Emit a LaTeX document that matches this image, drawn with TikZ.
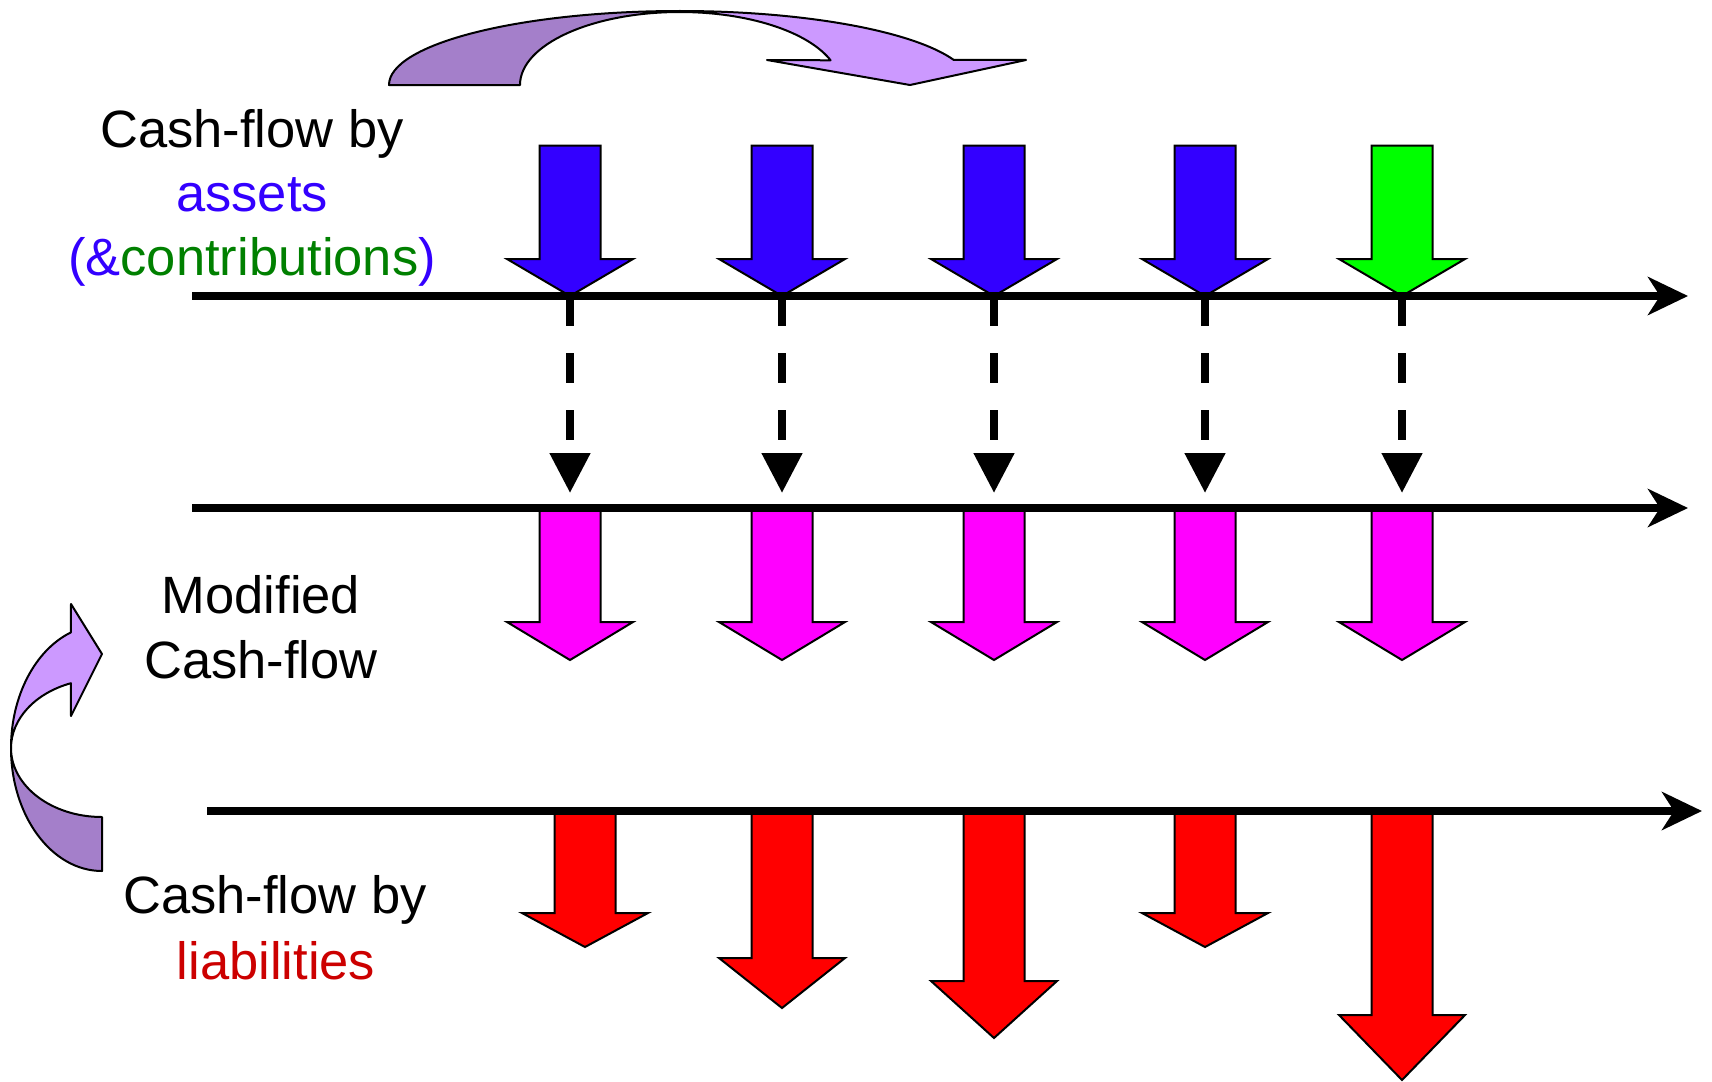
\documentclass[tikz,border=0pt]{standalone}
\usepackage{fontspec}
\setmainfont{Liberation Sans}
\usetikzlibrary{arrows.meta}
\definecolor{cblue}{HTML}{3300FF}
\definecolor{cgreen}{HTML}{00FF00}
\definecolor{cmag}{HTML}{FF00FF}
\definecolor{cred}{HTML}{FF0000}
\definecolor{tblue}{HTML}{3300FF}
\definecolor{tgreen}{HTML}{008000}
\definecolor{tred}{HTML}{CC0000}
\definecolor{pdark}{HTML}{A47FCA}
\definecolor{plight}{HTML}{CC99FF}
\newcommand\FatArrow[6]{%
  \path[fatarr, fill=#6] (#2-30.5,#3) -- (#2+30.5,#3) -- (#2+30.5,#4) -- (#2+63,#4) -- (#2,#5) -- (#2-63,#4) -- (#2-30.5,#4) -- cycle;
  \coordinate (#1) at (#2,#5);%
}
\begin{document}
\begin{tikzpicture}[x=1pt,y=-1pt,
  fatarr/.style={draw=black, line width=2pt, line join=miter},
  axisline/.style={line width=7.5pt, -{Stealth[length=40pt,width=38pt,inset=12pt]}},
  dashconn/.style={line width=8pt, dash pattern=on 30pt off 27pt, -{Triangle[length=40pt,width=39pt]}},
  lbl/.style={anchor=base, inner sep=0pt, font=\fontsize{52.5}{64}\selectfont},
  curv/.style={draw=black, line width=2pt, line join=round}]
\useasboundingbox (0,0) rectangle (1712,1081);

% curved arrow at the top
\path[curv, fill=pdark] (389,85) arc[start angle=180, end angle=270, x radius=291, y radius=74]
  -- (680,12) arc[start angle=270, end angle=180, x radius=160, y radius=73] -- cycle;
\path[curv, fill=plight] (680,11) arc[start angle=270, end angle=340.2, x radius=291, y radius=74]
  -- (1026,60) -- (910,85) -- (767,60) -- (830.6,60.3)
  arc[start angle=340.2, end angle=270, x radius=160, y radius=73] -- cycle;

% curved arrow at the left
\path[curv, fill=pdark] (102,871) arc[start angle=90, end angle=180, x radius=91, y radius=123]
  -- (11,748) arc[start angle=180, end angle=90, x radius=91, y radius=69] -- cycle;
\path[curv, fill=plight] (11,748) arc[start angle=180, end angle=250, x radius=91, y radius=123]
  -- (71,604) -- (102,654) -- (71,716) -- (70.9,683.2)
  arc[start angle=250, end angle=180, x radius=91, y radius=69] -- cycle;

% asset arrows
\FatArrow{b1}{570}{145.5}{259}{296}{cblue}
\FatArrow{b2}{782}{145.5}{259}{296}{cblue}
\FatArrow{b3}{994}{145.5}{259}{296}{cblue}
\FatArrow{b4}{1205}{145.5}{259}{296}{cblue}
\FatArrow{b5}{1402}{145.5}{259}{296}{cgreen}

% modified arrows
\FatArrow{m1}{570}{508}{622}{660}{cmag}
\FatArrow{m2}{782}{508}{622}{660}{cmag}
\FatArrow{m3}{994}{508}{622}{660}{cmag}
\FatArrow{m4}{1205}{508}{622}{660}{cmag}
\FatArrow{m5}{1402}{508}{622}{660}{cmag}

% liability arrows
\FatArrow{r1}{585}{811}{913}{947}{cred}
\FatArrow{r2}{782}{811}{958}{1008}{cred}
\FatArrow{r3}{994}{811}{981}{1038}{cred}
\FatArrow{r4}{1205}{811}{913}{947}{cred}
\FatArrow{r5}{1402}{811}{1015}{1080}{cred}

% time axes
\coordinate (a1s) at (192,296); \coordinate (a1e) at (1688,296);
\coordinate (a2s) at (192,508); \coordinate (a2e) at (1688,508);
\coordinate (a3s) at (207,811); \coordinate (a3e) at (1702,811);
\draw[axisline] (a1s) -- (a1e);
\draw[axisline] (a2s) -- (a2e);
\draw[axisline] (a3s) -- (a3e);

% dashed transfers
\coordinate (d1) at (570,493);
\coordinate (d2) at (782,493);
\coordinate (d3) at (994,493);
\coordinate (d4) at (1205,493);
\coordinate (d5) at (1402,493);
\draw[dashconn] (b1) -- (d1);
\draw[dashconn] (b2) -- (d2);
\draw[dashconn] (b3) -- (d3);
\draw[dashconn] (b4) -- (d4);
\draw[dashconn] (b5) -- (d5);

% labels
\node[lbl] (t1a) at (252,147) {Cash-flow by};
\node[lbl, text=tblue] (t1b) at (252,211) {assets};
\node[lbl] (t1c) at (252,275) {\textcolor{tblue}{(\&}\textcolor{tgreen}{contributions}\textcolor{tblue}{)}};
\node[lbl] (t2a) at (261,613) {Modified};
\node[lbl] (t2b) at (261,678) {Cash-flow};
\node[lbl] (t3a) at (275,913) {Cash-flow by};
\node[lbl, text=tred] (t3b) at (276,979) {liabilities};
\end{tikzpicture}
\end{document}
